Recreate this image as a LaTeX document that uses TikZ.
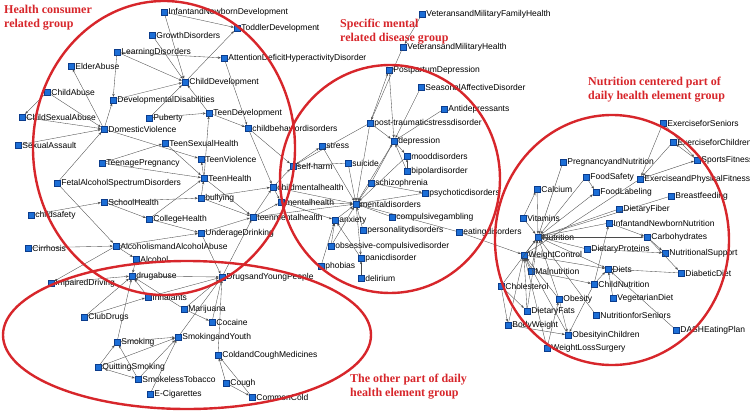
\documentclass[tikz,border=0pt]{standalone}
\usepackage{fontspec}
\setmainfont{Liberation Serif}
\setsansfont{Liberation Sans}
\usetikzlibrary{arrows.meta}

\definecolor{grpred}{HTML}{D7262B}
\definecolor{vtxblue}{HTML}{1C6ED6}
\definecolor{vtxedge}{HTML}{0B3C8C}
\definecolor{linkgray}{HTML}{4A4A4A}

\begin{document}
\begin{tikzpicture}[
  x=1pt, y=-1pt,
  every node/.style={font=\sffamily\fontsize{8.5}{10}\selectfont},
  vtx/.style    ={rectangle, draw=vtxedge, fill=vtxblue, minimum size=6pt, inner sep=0pt, line width=0.4pt},
  item/.style   ={vtx, label={[inner sep=0.5pt, label distance=0.5pt]right:#1}},
  link/.style   ={draw=linkgray, line width=0.35pt, -{Stealth[length=3pt, width=2.4pt]}},
  grp/.style    ={draw=grpred, line width=2.4pt},
  grptext/.style={font=\rmfamily\bfseries\fontsize{12}{14}\selectfont, text=grpred, align=left, anchor=north west, inner sep=0pt}
]
\useasboundingbox (0,0) rectangle (750,410);

%% Health consumer related group
\node[item=InfantandNewbornDevelopment]   (idev)    at (164,12)  {};
\node[item=ToddlerDevelopment]            (tod)     at (237,28)  {};
\node[item=GrowthDisorders]               (grow)    at (152,35)  {};
\node[item=LearningDisorders]             (learn)   at (117,52)  {};
\node[item=AttentionDeficitHyperactivityDisorder] (adhd) at (224,58) {};
\node[item=ElderAbuse]                    (elder)   at (71,66)   {};
\node[item=ChildDevelopment]              (cdev)    at (185,82)  {};
\node[item=ChildAbuse]                    (cabuse)  at (47,92)   {};
\node[item=DevelopmentalDisabilities]     (devdis)  at (113,100) {};
\node[item=ChildSexualAbuse]              (csabuse) at (22,117)  {};
\node[item=Puberty]                       (pub)     at (149,118) {};
\node[item=TeenDevelopment]               (tdev)    at (209,113) {};
\node[item=DomesticViolence]              (domv)    at (104,129) {};
\node[item=childbehaviordisorders]        (cbd)     at (248,128) {};
\node[item=SexualAssault]                 (sexa)    at (18,145)  {};
\node[item=TeenSexualHealth]              (tsex)    at (165,143) {};
\node[item=TeenViolence]                  (tviol)   at (201,159) {};
\node[item=TeenagePregnancy]              (tpreg)   at (102,163) {};
\node[item=TeenHealth]                    (thealth) at (204,178) {};
\node[item=FetalAlcoholSpectrumDisorders] (fasd)    at (57,183)  {};
\node[item=SchoolHealth]                  (school)  at (104,202) {};
\node[item=bullying]                      (bully)   at (201,198) {};
\node[item=childsafety]                   (csafe)   at (31,215)  {};
\node[item=CollegeHealth]                 (college) at (149,219) {};
\node[item=teenmentalhealth]              (tmh)     at (253,217) {};
\node[item=UnderageDrinking]              (udrink)  at (201,233) {};
\node[item=Cirrhosis]                     (cirr)    at (28,248)  {};
\node[item=AlcoholismandAlcoholAbuse]     (alcab)   at (116,246) {};
\node[item=Alcohol]                       (alcohol) at (136,259) {};
\node[item=childmentalhealth]             (cmh)     at (273,187) {};
\node[item=mentalhealth]                  (mh)      at (281,202) {};

%% The other part of daily health element group
\node[item=ImpairedDriving]       (impd)      at (51,283)  {};
\node[item=drugabuse]             (drugab)    at (132,276) {};
\node[item=DrugsandYoungPeople]   (dyp)       at (222,277) {};
\node[item=Inhalants]             (inhal)     at (148,297) {};
\node[item=Marijuana]             (mari)      at (184,309) {};
\node[item=ClubDrugs]             (club)      at (84,317)  {};
\node[item=Cocaine]               (coca)      at (212,322) {};
\node[item=Smoking]               (smok)      at (117,342) {};
\node[item=SmokingandYouth]       (smyouth)   at (178,337) {};
\node[item=ColdandCoughMedicines] (ccmed)     at (218,355) {};
\node[item=QuittingSmoking]       (quit)      at (98,367)  {};
\node[item=SmokelessTobacco]      (smokeless) at (138,379) {};
\node[item=Cough]                 (cough)     at (226,383) {};
\node[item=E-Cigarettes]          (ecig)      at (150,394) {};
\node[item=CommonCold]            (cold)      at (252,397) {};

%% Specific mental related disease group
\node[item=VeteransandMilitaryFamilyHealth] (vmfh)    at (422,14)  {};
\node[item=VeteransandMilitaryHealth]       (vmh)     at (403,47)  {};
\node[item=PostpartumDepression]            (ppd)     at (389,70)  {};
\node[item=SeasonalAffectiveDisorder]       (sad)     at (421,87)  {};
\node[item=Antidepressants]                 (antidep) at (444,109) {};
\node[item=post-traumaticstressdisorder]    (ptsd)    at (370,123) {};
\node[item=stress]                          (stress)  at (322,146) {};
\node[item=depression]                      (dep)     at (394,141) {};
\node[item=mooddisorders]                   (mood)    at (407,156) {};
\node[item=self-harm]                       (selfh)   at (293,166) {};
\node[item=suicide]                         (suic)    at (348,163) {};
\node[item=bipolardisorder]                 (bipol)   at (407,171) {};
\node[item=schizophrenia]                   (schiz)   at (371,183) {};
\node[item=psychoticdisorders]              (psych)   at (425,193) {};
\node[item=mentaldisorders]                 (mdis)    at (356,204) {};
\node[item=compulsivegambling]              (gamb)    at (392,217) {};
\node[item=anxiety]                         (anx)     at (335,220) {};
\node[item=personalitydisorders]            (pers)    at (363,230) {};
\node[item=eatingdisorders]                 (eat)     at (459,232) {};
\node[item=obsessive-compulsivedisorder]    (ocd)     at (331,246) {};
\node[item=panicdisorder]                   (panic)   at (361,258) {};
\node[item=phobias]                         (phob)    at (321,266) {};
\node[item=delirium]                        (delir)   at (361,278) {};

%% Nutrition centered part of daily health element group
\node[item=ExerciseforSeniors]         (exsen)  at (663,123) {};
\node[item=ExerciseforChildren]        (exch)   at (673,142) {};
\node[item=SportsFitness]              (sport)  at (697,160) {};
\node[item=PregnancyandNutrition]      (pregn)  at (563,162) {};
\node[item=FoodSafety]                 (fsafe)  at (586,177) {};
\node[item=ExerciseandPhysicalFitness] (exphys) at (640,179) {};
\node[item=Calcium]                    (calc)   at (537,189) {};
\node[item=FoodLabeling]               (flab)   at (596,192) {};
\node[item=Breastfeeding]              (breast) at (671,196) {};
\node[item=DietaryFiber]               (fiber)  at (619,209) {};
\node[item=Vitamins]                   (vit)    at (523,218) {};
\node[item=InfantandNewbornNutrition]  (infn)   at (609,223) {};
\node[item=Nutrition]                  (nutr)   at (538,237) {};
\node[item=Carbohydrates]              (carb)   at (647,237) {};
\node[item=DietaryProteins]            (dprot)  at (587,249) {};
\node[item=NutritionalSupport]         (nsup)   at (665,253) {};
\node[item=WeightControl]              (wctrl)  at (524,255) {};
\node[item=Diets]                      (diets)  at (608,269) {};
\node[item=Malnutrition]               (maln)   at (531,271) {};
\node[item=DiabeticDiet]               (diab)   at (681,273) {};
\node[item=Cholesterol]                (chol)   at (501,286) {};
\node[item=ChildNutrition]             (chn)    at (594,284) {};
\node[item=VegetarianDiet]             (veg)    at (613,298) {};
\node[item=Obesity]                    (obes)   at (559,299) {};
\node[item=DietaryFats]                (dfats)  at (527,311) {};
\node[item=NutritionforSeniors]        (nsen)   at (596,315) {};
\node[item=BodyWeight]                 (bodyw)  at (508,325) {};
\node[item=DASHEatingPlan]             (dash)   at (676,330) {};
\node[item=ObesityinChildren]          (obch)   at (568,335) {};
\node[item=WeightLossSurgery]          (wls)    at (547,348) {};

%% links
\foreach \a/\b in {idev/tod, idev/cdev, grow/cdev, cdev/tod, learn/adhd, learn/cdev, learn/devdis,
  domv/elder, cabuse/csabuse, cabuse/domv, csabuse/domv, sexa/domv, domv/devdis, devdis/cdev,
  pub/tdev, pub/cdev, tdev/cdev, tdev/cbd, adhd/cbd, domv/tviol, fasd/domv, tsex/thealth,
  tpreg/thealth, tpreg/tsex, thealth/tdev, bully/thealth, school/bully, school/college,
  csafe/school, college/thealth, college/udrink, bully/tmh, thealth/tmh, bully/cmh, udrink/tmh,
  alcab/udrink, cirr/alcab, fasd/alcab, alcab/alcohol, cbd/cmh, cbd/selfh, cmh/selfh, tmh/cmh,
  tmh/mh, cmh/mh, mh/mdis, cmh/mdis, tmh/mdis, dyp/tmh, udrink/dyp, alcab/impd}
  \draw[link] (\a) -- (\b);
\foreach \a/\b in {drugab/dyp, impd/drugab, alcohol/drugab, inhal/dyp, club/drugab, club/inhal,
  mari/drugab, mari/dyp, mari/coca, coca/dyp, smok/drugab, smok/smyouth, quit/smok, quit/smyouth,
  quit/smokeless, smokeless/smok, smokeless/smyouth, ecig/smyouth, smyouth/dyp, ccmed/dyp,
  cough/ccmed, cough/cold, cold/ccmed}
  \draw[link] (\a) -- (\b);
\foreach \a/\b in {vmfh/vmh, vmh/ptsd, ptsd/ppd, ppd/dep, sad/dep, antidep/dep, ptsd/dep, ptsd/mdis,
  ptsd/selfh, selfh/stress, stress/mdis, suic/selfh, suic/mdis, dep/mdis, bipol/dep, bipol/mood,
  schiz/mdis, schiz/dep, schiz/psych, psych/mdis, mood/mdis, gamb/mdis, eat/mdis, anx/mdis,
  pers/mdis, ocd/anx, ocd/mdis, panic/anx, phob/anx, mdis/panic, delir/panic, mh/anx, eat/wctrl}
  \draw[link] (\a) -- (\b);
\foreach \a/\b in {exsen/exphys, exch/exphys, exsen/sport, exphys/sport, exphys/wctrl, pregn/nutr,
  fsafe/flab, fsafe/nutr, nutr/flab, vit/calc, calc/nutr, vit/nutr, breast/nutr, fiber/nutr,
  infn/nutr, infn/carb, chn/infn, nutr/carb, carb/nsup, dprot/nutr, dprot/nsup, wctrl/nutr,
  diab/diets, carb/diab, nutr/diets, wctrl/diets, chn/diets, veg/diets, dash/diets, maln/nutr,
  maln/chn, maln/wctrl, chol/nutr, chol/dfats, chn/obch, obes/wctrl, obes/obch, obes/nutr,
  dfats/nutr, dfats/wctrl, bodyw/wctrl, bodyw/obch, wls/obes, wls/wctrl, nsen/nutr, obch/wctrl,
  chol/bodyw}
  \draw[link] (\a) -- (\b);
\draw[link, {Stealth[length=3pt, width=2.4pt]}-] (tviol) -- (thealth);
\draw[link, {Stealth[length=3pt, width=2.4pt]}-] (drugab) -- (inhal);
\draw[link, {Stealth[length=3pt, width=2.4pt]}-] (mood) -- (dep);
\draw[link, {Stealth[length=3pt, width=2.4pt]}-] (exch) -- (sport);

%% group rings
\draw[grp] (164,148) ellipse [x radius=131pt, y radius=147pt];
\draw[grp] (390,179) ellipse [x radius=110pt, y radius=114pt];
\draw[grp] (612,240) ellipse [x radius=117pt, y radius=125pt];
\draw[grp] (187,335) ellipse [x radius=184pt, y radius=74pt];

%% group titles
\node[grptext] (t1) at (4,5)    {Health consumer\\related group};
\node[grptext] (t2) at (340,19) {Specific mental\\related disease group};
\node[grptext] (t3) at (588,77) {Nutrition centered part of\\daily health element group};
\node[grptext] (t4) at (350,374){The other part of daily\\health element group};

\end{tikzpicture}
\end{document}
